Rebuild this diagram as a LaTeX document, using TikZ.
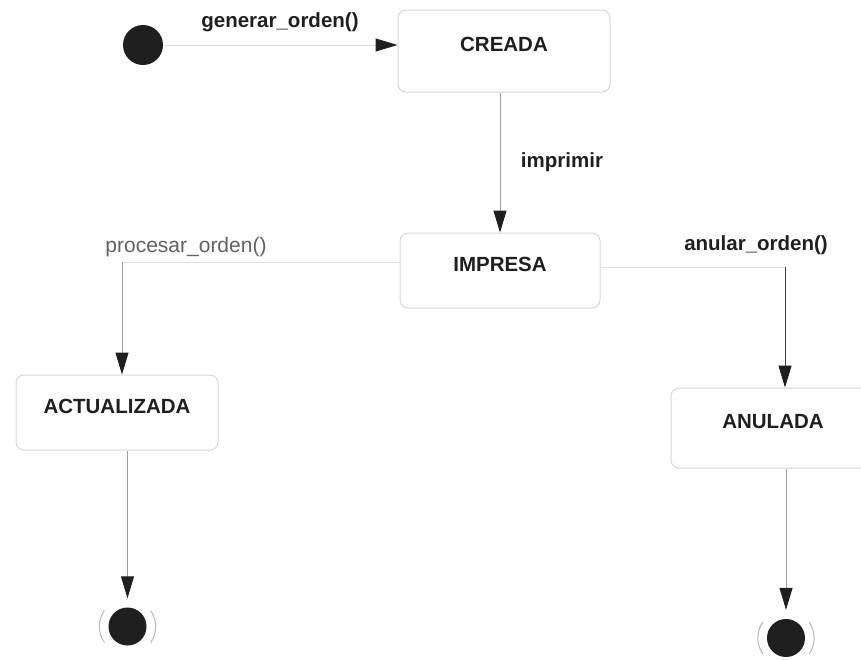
\documentclass[tikz,border=0pt]{standalone}
\usepackage{fontspec}
\setmainfont{Liberation Sans}
\usetikzlibrary{arrows.meta}
\begin{document}
\begin{tikzpicture}[x=1pt,y=-1pt,
  statebox/.style={draw=black!16, line width=1pt, rounded corners=8pt,
    text=black!88, font=\fontsize{20.5}{24}\selectfont\bfseries,
    text height=15pt, text depth=14pt, inner sep=0pt},
  initstate/.style={circle, fill=black!88, minimum size=40pt, inner sep=0pt},
  finalstate/.style={circle, minimum size=56pt, inner sep=0pt,
    path picture={\fill[black!88] (path picture bounding box.center) circle (19pt);}},
  ringarc/.style={black!28, line width=1pt},
  evlabel/.style={text=black!88, font=\fontsize{20.5}{24}\selectfont\bfseries, inner sep=0pt},
  evlabelplain/.style={text=black!62, font=\fontsize{21}{24}\selectfont, inner sep=0pt},
  tip/.style={-{Triangle[length=22pt,width=13pt,color=black!88]}},
  faintline/.style={black!12, line width=1pt},
  midline/.style={black!38, line width=1pt},
  darkline/.style={black!75, line width=1pt}
]
\useasboundingbox (0,0) rectangle (861,659);
\clip (0,0) rectangle (861,659);

% states
\node[initstate] (init) at (143,45) {};
\node[statebox, minimum width=212pt, minimum height=82pt] (creada) at (504,51) {CREADA};
\node[statebox, minimum width=200pt, minimum height=75pt] (impresa) at (500,270.5) {IMPRESA};
\node[statebox, minimum width=202pt, minimum height=75pt] (actualizada) at (117,412.5) {ACTUALIZADA};
\node[statebox, minimum width=204pt, minimum height=80pt] (anulada) at (773,428) {ANULADA};
\node[finalstate] (fin1) at (127.5,626.5) {};
\node[finalstate] (fin2) at (786,638) {};

% faint outer rings of the final states
\foreach \f in {fin1,fin2}{
  \draw[ringarc] (\f.145) arc[start angle=145, end angle=215, radius=28pt];
  \draw[ringarc] (\f.-35) arc[start angle=-35, end angle=35, radius=28pt];
}

% event labels
\node[evlabel] (lgen) at (280,22) {generar\_orden()};
\node[evlabel] (limp) at (562,162) {imprimir};
\node[evlabelplain] (lproc) at (186,247) {procesar\_orden()};
\node[evlabel] (lanul) at (756,245) {anular\_orden()};

% transitions
\draw[faintline, tip] (init.east) -- (init.east -| creada.west);
\draw[midline, tip] (creada.south -| impresa.north) -- (impresa.north);

\coordinate (cproc) at (122,262);
\draw[faintline] ([yshift=8.5pt]impresa.west) -- (cproc);
\draw[midline, tip] (cproc) -- (cproc |- actualizada.north);

\coordinate (canul) at (785,267);
\draw[faintline] ([yshift=3.5pt]impresa.east) -- (canul);
\draw[darkline, tip] (canul) -- (canul |- anulada.north);

\draw[midline, tip] (actualizada.south -| fin1.north) -- (fin1.north);
\draw[midline, tip] (anulada.south -| fin2.north) -- (fin2.north);
\end{tikzpicture}
\end{document}
